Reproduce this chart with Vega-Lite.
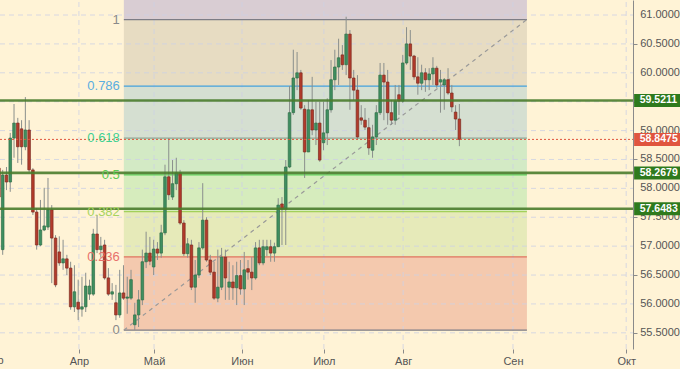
{
  "$schema": "https://vega.github.io/schema/vega-lite/v6.json",
  "width": 680,
  "height": 349,
  "padding": {"left": 0, "top": 0, "right": 0, "bottom": 20},
  "autosize": {"type": "none"},
  "background": "#fff3d6",
  "config": {"view": {"stroke": null}, "font": "Liberation Sans", "axis": {"labelOverlap": false}},
  "datasets": {
    "candles": [
      {"k":-1,"o":58.35,"h":58.41,"l":57.80,"c":57.85},
      {"k":0,"o":56.94,"h":58.32,"l":56.85,"c":58.23},
      {"k":1,"o":58.23,"h":58.37,"l":57.97,"c":58.11},
      {"k":2,"o":58.11,"h":58.96,"l":57.94,"c":58.87},
      {"k":3,"o":58.87,"h":59.46,"l":58.53,"c":59.13},
      {"k":4,"o":59.13,"h":59.22,"l":58.44,"c":58.72},
      {"k":5,"o":59.03,"h":59.18,"l":58.41,"c":58.72},
      {"k":6,"o":58.72,"h":59.58,"l":58.66,"c":59.01},
      {"k":7,"o":59.01,"h":59.18,"l":58.28,"c":58.32},
      {"k":8,"o":58.32,"h":58.35,"l":57.54,"c":57.59},
      {"k":9,"o":57.59,"h":57.66,"l":56.94,"c":57.02},
      {"k":10,"o":57.02,"h":57.80,"l":57.00,"c":57.28},
      {"k":11,"o":57.28,"h":58.01,"l":57.26,"c":57.35},
      {"k":12,"o":57.33,"h":58.18,"l":57.28,"c":57.63},
      {"k":13,"o":57.63,"h":57.71,"l":56.36,"c":57.14},
      {"k":14,"o":57.14,"h":57.19,"l":56.29,"c":56.33},
      {"k":15,"o":56.90,"h":57.17,"l":56.66,"c":56.71},
      {"k":16,"o":56.71,"h":57.11,"l":56.59,"c":56.78},
      {"k":17,"o":56.78,"h":56.85,"l":56.50,"c":56.62},
      {"k":18,"o":56.62,"h":56.73,"l":55.90,"c":55.95},
      {"k":19,"o":55.95,"h":56.67,"l":55.86,"c":56.21},
      {"k":20,"o":56.03,"h":56.42,"l":55.72,"c":55.91},
      {"k":21,"o":55.91,"h":56.47,"l":55.78,"c":55.95},
      {"k":22,"o":55.95,"h":56.54,"l":55.86,"c":56.31},
      {"k":23,"o":56.17,"h":56.42,"l":56.07,"c":56.31},
      {"k":24,"o":56.17,"h":57.30,"l":56.14,"c":57.21},
      {"k":25,"o":57.21,"h":57.54,"l":56.88,"c":56.94},
      {"k":26,"o":56.94,"h":57.16,"l":56.80,"c":57.00},
      {"k":27,"o":57.02,"h":57.11,"l":56.42,"c":56.45},
      {"k":28,"o":56.45,"h":56.62,"l":56.14,"c":56.17},
      {"k":29,"o":56.17,"h":56.36,"l":56.07,"c":56.21},
      {"k":30,"o":56.02,"h":56.33,"l":55.72,"c":55.81},
      {"k":31,"o":55.81,"h":56.59,"l":55.76,"c":56.19},
      {"k":32,"o":56.19,"h":56.67,"l":56.07,"c":56.10},
      {"k":33,"o":56.10,"h":56.47,"l":55.83,"c":56.12},
      {"k":34,"o":56.10,"h":56.59,"l":56.07,"c":56.42},
      {"k":35,"o":55.64,"h":56.02,"l":55.55,"c":55.81},
      {"k":36,"o":55.81,"h":56.24,"l":55.60,"c":56.07},
      {"k":37,"o":56.07,"h":56.94,"l":55.98,"c":56.73},
      {"k":38,"o":56.73,"h":57.25,"l":56.62,"c":56.88},
      {"k":39,"o":56.88,"h":57.16,"l":56.67,"c":56.74},
      {"k":40,"o":56.64,"h":57.11,"l":56.50,"c":56.95},
      {"k":41,"o":56.95,"h":57.07,"l":56.76,"c":56.88},
      {"k":42,"o":56.88,"h":57.37,"l":56.80,"c":57.23},
      {"k":43,"o":57.23,"h":58.41,"l":57.19,"c":58.20},
      {"k":44,"o":58.20,"h":58.87,"l":57.80,"c":57.89},
      {"k":45,"o":57.85,"h":58.49,"l":57.80,"c":58.08},
      {"k":46,"o":58.08,"h":58.53,"l":57.97,"c":58.27},
      {"k":47,"o":58.27,"h":58.32,"l":57.37,"c":57.40},
      {"k":48,"o":57.40,"h":57.45,"l":56.83,"c":56.87},
      {"k":49,"o":56.87,"h":57.14,"l":56.80,"c":57.04},
      {"k":50,"o":57.02,"h":57.11,"l":56.24,"c":56.29},
      {"k":51,"o":56.29,"h":56.76,"l":56.02,"c":56.50},
      {"k":52,"o":56.50,"h":57.07,"l":56.45,"c":56.97},
      {"k":53,"o":56.97,"h":58.09,"l":56.94,"c":57.45},
      {"k":54,"o":57.45,"h":57.50,"l":56.73,"c":56.76},
      {"k":55,"o":56.76,"h":56.85,"l":56.50,"c":56.55},
      {"k":56,"o":56.55,"h":56.73,"l":56.07,"c":56.10},
      {"k":57,"o":56.10,"h":56.94,"l":56.03,"c":56.29},
      {"k":58,"o":56.29,"h":56.97,"l":56.24,"c":56.81},
      {"k":59,"o":56.81,"h":56.94,"l":56.07,"c":56.45},
      {"k":60,"o":56.29,"h":56.73,"l":56.07,"c":56.38},
      {"k":61,"o":56.38,"h":56.67,"l":56.07,"c":56.28},
      {"k":62,"o":56.28,"h":56.73,"l":55.98,"c":56.49},
      {"k":63,"o":56.49,"h":56.76,"l":56.16,"c":56.26},
      {"k":64,"o":56.26,"h":56.90,"l":55.98,"c":56.59},
      {"k":65,"o":56.61,"h":56.76,"l":56.42,"c":56.55},
      {"k":66,"o":56.55,"h":56.81,"l":56.24,"c":56.45},
      {"k":67,"o":56.45,"h":57.07,"l":56.42,"c":56.97},
      {"k":68,"o":56.97,"h":57.11,"l":56.67,"c":56.71},
      {"k":69,"o":56.71,"h":57.11,"l":56.67,"c":56.99},
      {"k":70,"o":56.94,"h":57.11,"l":56.83,"c":56.99},
      {"k":71,"o":56.99,"h":57.11,"l":56.73,"c":56.88},
      {"k":72,"o":56.88,"h":57.06,"l":56.73,"c":56.99},
      {"k":73,"o":56.99,"h":57.83,"l":56.99,"c":57.71},
      {"k":74,"o":57.73,"h":57.85,"l":57.02,"c":57.64},
      {"k":75,"o":57.64,"h":58.49,"l":57.02,"c":58.37},
      {"k":76,"o":58.37,"h":59.77,"l":58.35,"c":59.31},
      {"k":77,"o":59.31,"h":60.40,"l":59.27,"c":59.91},
      {"k":78,"o":59.91,"h":60.36,"l":59.70,"c":60.00},
      {"k":79,"o":60.00,"h":60.05,"l":59.36,"c":59.39},
      {"k":80,"o":59.37,"h":59.44,"l":58.18,"c":58.63},
      {"k":81,"o":58.63,"h":59.53,"l":58.63,"c":59.36},
      {"k":82,"o":59.36,"h":59.93,"l":58.92,"c":59.01},
      {"k":83,"o":59.01,"h":59.50,"l":58.75,"c":59.13},
      {"k":84,"o":59.13,"h":59.50,"l":58.46,"c":58.49},
      {"k":85,"o":58.79,"h":59.50,"l":58.66,"c":58.96},
      {"k":86,"o":58.96,"h":59.56,"l":58.75,"c":59.36},
      {"k":87,"o":59.36,"h":60.22,"l":59.31,"c":59.88},
      {"k":88,"o":59.88,"h":60.40,"l":59.70,"c":60.10},
      {"k":89,"o":60.10,"h":60.59,"l":59.79,"c":60.26},
      {"k":90,"o":60.31,"h":60.48,"l":60.05,"c":60.14},
      {"k":91,"o":60.14,"h":60.97,"l":59.96,"c":60.67},
      {"k":92,"o":60.67,"h":60.74,"l":59.36,"c":59.91},
      {"k":93,"o":59.91,"h":60.05,"l":59.53,"c":59.70},
      {"k":94,"o":59.70,"h":59.96,"l":58.84,"c":58.89},
      {"k":95,"o":59.22,"h":59.44,"l":59.10,"c":59.18},
      {"k":96,"o":59.18,"h":59.39,"l":59.01,"c":59.06},
      {"k":97,"o":59.05,"h":59.22,"l":58.58,"c":58.70},
      {"k":98,"o":58.66,"h":59.10,"l":58.53,"c":58.89},
      {"k":99,"o":58.89,"h":59.44,"l":58.75,"c":59.31},
      {"k":100,"o":59.31,"h":60.17,"l":59.27,"c":59.96},
      {"k":101,"o":59.96,"h":60.17,"l":59.18,"c":59.84},
      {"k":102,"o":59.84,"h":60.05,"l":59.10,"c":59.31},
      {"k":103,"o":59.31,"h":59.53,"l":59.10,"c":59.18},
      {"k":104,"o":59.18,"h":59.79,"l":59.10,"c":59.51},
      {"k":105,"o":59.62,"h":59.79,"l":59.27,"c":59.51},
      {"k":106,"o":59.51,"h":60.31,"l":59.48,"c":60.17},
      {"k":107,"o":60.17,"h":60.79,"l":60.14,"c":60.50},
      {"k":108,"o":60.50,"h":60.74,"l":60.05,"c":60.29},
      {"k":109,"o":60.29,"h":60.31,"l":59.88,"c":59.93},
      {"k":110,"o":59.93,"h":60.27,"l":59.62,"c":59.82},
      {"k":111,"o":59.82,"h":60.14,"l":59.70,"c":60.00},
      {"k":112,"o":60.00,"h":60.08,"l":59.67,"c":59.88},
      {"k":113,"o":59.88,"h":60.08,"l":59.70,"c":59.98},
      {"k":114,"o":59.98,"h":60.27,"l":59.79,"c":60.08},
      {"k":115,"o":60.08,"h":60.12,"l":59.74,"c":59.79},
      {"k":116,"o":59.84,"h":60.05,"l":59.31,"c":59.88},
      {"k":117,"o":59.79,"h":59.91,"l":59.36,"c":59.88},
      {"k":118,"o":59.88,"h":60.08,"l":59.62,"c":59.65},
      {"k":119,"o":59.65,"h":59.79,"l":59.32,"c":59.41},
      {"k":120,"o":59.32,"h":59.44,"l":59.01,"c":59.20},
      {"k":121,"o":59.20,"h":59.46,"l":58.73,"c":58.8475}
    ],
    "zones": [
      {"z":"z1","lo":60.922,"hi":61.26},
      {"z":"z786","lo":59.771,"hi":60.922},
      {"z":"z618","lo":58.868,"hi":59.771},
      {"z":"z5","lo":58.2335,"hi":58.868},
      {"z":"z382","lo":57.599,"hi":58.2335},
      {"z":"z236","lo":56.814,"hi":57.599},
      {"z":"z0","lo":55.545,"hi":56.814}
    ],
    "levels": [
      {"lvl":"1","v":60.922},
      {"lvl":"0.786","v":59.771},
      {"lvl":"0.618","v":58.868},
      {"lvl":"0.5","v":58.2335},
      {"lvl":"0.382","v":57.599},
      {"lvl":"0.236","v":56.814},
      {"lvl":"0","v":55.545}
    ],
    "fib": [
      {"k":32.1,"p":55.545},
      {"k":138.9,"p":60.922}
    ],
    "hgrid": [
      {"v":55.5},{"v":56.0},{"v":56.5},{"v":57.0},{"v":57.5},{"v":58.0},
      {"v":58.5},{"v":59.0},{"v":59.5},{"v":60.0},{"v":60.5},{"v":61.0}
    ],
    "months": [
      {"k":20.2,"m":"Апр"},{"k":40.1,"m":"Май"},{"k":63.4,"m":"Июн"},
      {"k":85.1,"m":"Июл"},{"k":106.1,"m":"Авг"},{"k":135.2,"m":"Сен"},{"k":165.2,"m":"Окт"}
    ],
    "support": [
      {"v":59.5211},{"v":58.2679},{"v":57.6483}
    ],
    "price": [
      {"v":58.8475}
    ]
  },
  "layer": [
    {
      "data": {"name": "zones"},
      "mark": {"type": "rect"},
      "encoding": {
        "x": {"datum": 32.1, "type": "quantitative",
              "scale": {"domain": [-0.7154, 179.46], "nice": false, "zero": false, "padding": 0},
              "axis": {"orient": "bottom", "title": null, "values": [20.2, 40.1, 63.4, 85.1, 106.1, 135.2, 165.2],
                       "labelExpr": "datum.value < 30 ? 'Апр' : datum.value < 50 ? 'Май' : datum.value < 70 ? 'Июн' : datum.value < 95 ? 'Июл' : datum.value < 120 ? 'Авг' : datum.value < 150 ? 'Сен' : 'Окт'",
                       "domain": false, "grid": false, "tickSize": 4, "tickColor": "#8a8a8a", "labelOverlap": false,
                       "labelColor": "#555555", "labelFontSize": 11, "labelPadding": 2, "labelFont": "Liberation Sans"}},
        "x2": {"datum": 138.9},
        "y": {"field": "lo", "type": "quantitative",
              "scale": {"domain": [55.22, 61.26], "nice": false, "zero": false, "padding": 0},
              "axis": {"orient": "right", "offset": -47, "title": null,
                       "values": [55.5, 56, 56.5, 57, 57.5, 58, 58.5, 59, 59.5, 60, 60.5, 61],
                       "labels": false, "grid": false, "tickSize": 4, "tickColor": "#8a8a8a",
                       "domainColor": "#8a8a8a"}},
        "y2": {"field": "hi"},
        "color": {"field": "z", "type": "nominal", "legend": null,
                  "scale": {"domain": ["z1","z786","z618","z5","z382","z236","z0"],
                            "range": ["#d9cdd3","#e7dcc2","#d5dfd1","#d3eac5","#d6ecbd","#e6eab9","#f4c9ae"]}}
      }
    },
    {
      "data": {"name": "hgrid"},
      "mark": {"type": "rule", "stroke": "#cdd1e4", "strokeDash": [5, 4], "strokeWidth": 1, "opacity": 0.8},
      "encoding": {
        "x": {"datum": -0.7154, "type": "quantitative"},
        "x2": {"datum": 167.0},
        "y": {"field": "v", "type": "quantitative"}
      }
    },
    {
      "data": {"name": "months"},
      "mark": {"type": "rule", "stroke": "#cdd1e4", "strokeDash": [5, 4], "strokeWidth": 1, "opacity": 0.8},
      "encoding": {
        "x": {"field": "k", "type": "quantitative"},
        "y": {"datum": 55.22, "type": "quantitative"},
        "y2": {"datum": 61.26}
      }
    },
    {
      "data": {"name": "hgrid"},
      "mark": {"type": "text", "align": "left", "baseline": "middle", "fill": "#555555", "fontSize": 11, "font": "Liberation Sans"},
      "encoding": {
        "x": {"datum": 168.9, "type": "quantitative"},
        "y": {"field": "v", "type": "quantitative"},
        "text": {"field": "v", "type": "quantitative", "format": ".4f"}
      }
    },
    {
      "data": {"name": "levels"},
      "mark": {"type": "rule", "strokeWidth": 1.3},
      "encoding": {
        "x": {"datum": 32.1, "type": "quantitative"},
        "x2": {"datum": 138.9},
        "y": {"field": "v", "type": "quantitative"},
        "stroke": {"field": "lvl", "type": "nominal", "legend": null,
                   "scale": {"domain": ["1","0.786","0.618","0.5","0.382","0.236","0"],
                             "range": ["#7d7d86","#45a2dc","#8ea596","#5fd25a","#a3d05a","#e0735f","#7d7d86"]}}
      }
    },
    {
      "data": {"name": "fib"},
      "mark": {"type": "line", "stroke": "#999999", "strokeDash": [4, 4], "strokeWidth": 1.2},
      "encoding": {
        "x": {"field": "k", "type": "quantitative"},
        "y": {"field": "p", "type": "quantitative"}
      }
    },
    {
      "data": {"name": "candles"},
      "mark": {"type": "rule", "stroke": "#8a8f8c", "strokeWidth": 1},
      "encoding": {
        "x": {"field": "k", "type": "quantitative"},
        "y": {"field": "l", "type": "quantitative"},
        "y2": {"field": "h"}
      }
    },
    {
      "data": {"name": "candles"},
      "mark": {"type": "bar", "size": 2.6, "strokeWidth": 0.7},
      "encoding": {
        "x": {"field": "k", "type": "quantitative"},
        "y": {"field": "o", "type": "quantitative"},
        "y2": {"field": "c"},
        "fill": {"condition": {"test": "datum.c >= datum.o", "value": "#3f8f60"}, "value": "#b33b2b"},
        "stroke": {"condition": {"test": "datum.c >= datum.o", "value": "#2f6e48"}, "value": "#7c2a1f"}
      }
    },
    {
      "data": {"name": "support"},
      "mark": {"type": "rule", "stroke": "#4a7c2c", "strokeWidth": 2.6, "opacity": 0.9},
      "encoding": {
        "x": {"datum": -0.7154, "type": "quantitative"},
        "x2": {"datum": 167.0},
        "y": {"field": "v", "type": "quantitative"}
      }
    },
    {
      "data": {"name": "price"},
      "mark": {"type": "rule", "stroke": "#e0533c", "strokeWidth": 1, "strokeDash": [2, 2]},
      "encoding": {
        "x": {"datum": -0.7154, "type": "quantitative"},
        "x2": {"datum": 167.0},
        "y": {"field": "v", "type": "quantitative"}
      }
    },
    {
      "data": {"name": "support"},
      "mark": {"type": "rule", "stroke": "#2e7a1d", "strokeWidth": 13, "strokeCap": "butt"},
      "encoding": {
        "x": {"datum": 167.3, "type": "quantitative"},
        "x2": {"datum": 179.46},
        "y": {"field": "v", "type": "quantitative"}
      }
    },
    {
      "data": {"name": "price"},
      "mark": {"type": "rule", "stroke": "#e0553f", "strokeWidth": 13, "strokeCap": "butt"},
      "encoding": {
        "x": {"datum": 167.3, "type": "quantitative"},
        "x2": {"datum": 179.46},
        "y": {"field": "v", "type": "quantitative"}
      }
    },
    {
      "data": {"name": "support"},
      "mark": {"type": "text", "align": "left", "baseline": "middle", "fill": "#ffffff", "fontWeight": "bold", "fontSize": 10.5, "font": "Liberation Sans"},
      "encoding": {
        "x": {"datum": 168.8, "type": "quantitative"},
        "y": {"field": "v", "type": "quantitative"},
        "text": {"field": "v", "type": "quantitative", "format": ".4f"}
      }
    },
    {
      "data": {"name": "price"},
      "mark": {"type": "text", "align": "left", "baseline": "middle", "fill": "#ffffff", "fontWeight": "bold", "fontSize": 10.5, "font": "Liberation Sans"},
      "encoding": {
        "x": {"datum": 168.8, "type": "quantitative"},
        "y": {"field": "v", "type": "quantitative"},
        "text": {"field": "v", "type": "quantitative", "format": ".4f"}
      }
    },
    {
      "data": {"name": "levels"},
      "mark": {"type": "text", "align": "right", "baseline": "middle", "dx": -4, "fontSize": 13, "font": "Liberation Sans"},
      "encoding": {
        "x": {"datum": 32.1, "type": "quantitative"},
        "y": {"field": "v", "type": "quantitative"},
        "text": {"field": "lvl", "type": "nominal"},
        "fill": {"field": "lvl", "type": "nominal", "legend": null,
                 "scale": {"domain": ["1","0.786","0.618","0.5","0.382","0.236","0"],
                           "range": ["#8a8a8a","#5aaee0","#3fd092","#5ccc52","#a8d35f","#e8706a","#8a8a8a"]}}
      }
    },
    {
      "data": {"values": [{"k": -2.6, "m": "Мар"}]},
      "mark": {"type": "text", "align": "center", "baseline": "top", "dy": 6, "fontSize": 11, "fill": "#555555", "font": "Liberation Sans"},
      "encoding": {
        "x": {"field": "k", "type": "quantitative"},
        "y": {"datum": 55.22, "type": "quantitative"},
        "text": {"field": "m", "type": "nominal"}
      }
    }
  ]
}
